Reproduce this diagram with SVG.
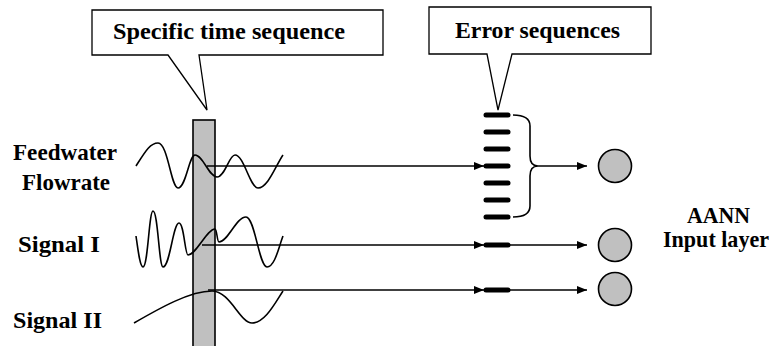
<svg xmlns="http://www.w3.org/2000/svg" width="774" height="346" viewBox="0 0 774 346">
<defs>
<marker id="ah" viewBox="0 0 10 8" refX="10" refY="4" markerWidth="10" markerHeight="8" markerUnits="userSpaceOnUse" orient="auto">
<path d="M0,0 L10,4 L0,8 Z" fill="#000"/>
</marker>
</defs>
<style>
.w{fill:none;stroke:#000;stroke-width:1.6}
.c{fill:none;stroke:#000;stroke-width:1.6}
.bar{stroke:#000;stroke-width:5;stroke-linecap:round}
.node{fill:#c0c0c0;stroke:#000;stroke-width:1.6}
.call{fill:#fff;stroke:#000;stroke-width:1.3}
</style>
<rect width="774" height="346" fill="#fff"/>

<g id="callout-time">
<path class="call" d="M92,10 H383 V55 H199 L207,110 L168,55 H92 Z"/>
<text font-family="Liberation Serif, serif" font-weight="bold" font-size="23" x="113" y="39" textLength="232" lengthAdjust="spacingAndGlyphs">Specific time sequence</text>
</g>
<g id="callout-error">
<path class="call" d="M429,7 H651 V54 H512 L498,110 L487,54 H429 Z"/>
<text font-family="Liberation Serif, serif" font-weight="bold" font-size="23" x="455" y="38" textLength="165" lengthAdjust="spacingAndGlyphs">Error sequences</text>
</g>

<g id="time-window">
<rect x="193" y="120" width="22" height="230" fill="#c0c0c0" stroke="#000" stroke-width="1.6"/>
</g>

<g id="labels" font-family="Liberation Serif, serif" font-weight="bold" font-size="23">
<text x="13" y="160" textLength="104" lengthAdjust="spacingAndGlyphs">Feedwater</text>
<text x="22" y="190" textLength="88" lengthAdjust="spacingAndGlyphs">Flowrate</text>
<text x="18" y="252" textLength="82" lengthAdjust="spacingAndGlyphs">Signal I</text>
<text x="13" y="328" textLength="89" lengthAdjust="spacingAndGlyphs">Signal II</text>
<text x="687" y="223" textLength="63" lengthAdjust="spacingAndGlyphs">AANN</text>
<text x="663" y="247" textLength="106" lengthAdjust="spacingAndGlyphs">Input layer</text>
</g>

<g id="waves">
<path class="w" d="M136,166 C145,152 150,143 158,143 C168,143 171,188 178,188 C186,188 189,155 195,155 C203,155 209,177 217,177 C225,177 229,155 235,155 C244,155 250,188 258,188 C268,188 276,165 283,155"/>
<path class="w" d="M136,236 C138,250 140,267 143,267 C148,267 149,211 153,211 C158,211 159,267 163,267 C170,267 173,223 179,223 C184,223 185,255 188,255 C196,255 207,229 215,229 C217,229 217,242 219,242 C228,242 236,217 246,217 C255,217 259,267 267,267 C275,267 279,246 283,236"/>
<path class="w" d="M134,323 C160,308 190,291 212,291 C230,291 240,323 252,323 C265,323 275,303 283,291"/>
</g>

<g id="connectors">
<line class="c" x1="207" y1="166" x2="484" y2="166" marker-end="url(#ah)"/>
<line class="c" x1="202" y1="245" x2="484" y2="245" marker-end="url(#ah)"/>
<line class="c" x1="208" y1="290" x2="484" y2="290" marker-end="url(#ah)"/>
<path class="c" d="M513,115 Q530,115 530,126 V156 Q530,166 538,166 M513,217 Q530,217 530,206 V176 Q530,166 538,166"/>
<line class="c" x1="538" y1="166" x2="587" y2="166" marker-end="url(#ah)"/>
<line class="c" x1="508" y1="245" x2="587" y2="245" marker-end="url(#ah)"/>
<line class="c" x1="508" y1="290" x2="587" y2="290" marker-end="url(#ah)"/>
</g>

<g id="error-sequences">
<line class="bar" x1="486" y1="115" x2="508" y2="115"/>
<line class="bar" x1="486" y1="132" x2="508" y2="132"/>
<line class="bar" x1="486" y1="149" x2="508" y2="149"/>
<line class="bar" x1="486" y1="166" x2="508" y2="166"/>
<line class="bar" x1="486" y1="183" x2="508" y2="183"/>
<line class="bar" x1="486" y1="200" x2="508" y2="200"/>
<line class="bar" x1="486" y1="217" x2="508" y2="217"/>
<line class="bar" x1="486" y1="245" x2="508" y2="245"/>
<line class="bar" x1="486" y1="290" x2="508" y2="290"/>
</g>

<g id="node-1"><circle class="node" cx="615" cy="166" r="16.5"/></g>
<g id="node-2"><circle class="node" cx="615" cy="245" r="16.5"/></g>
<g id="node-3"><circle class="node" cx="615" cy="289" r="16.5"/></g>
</svg>
